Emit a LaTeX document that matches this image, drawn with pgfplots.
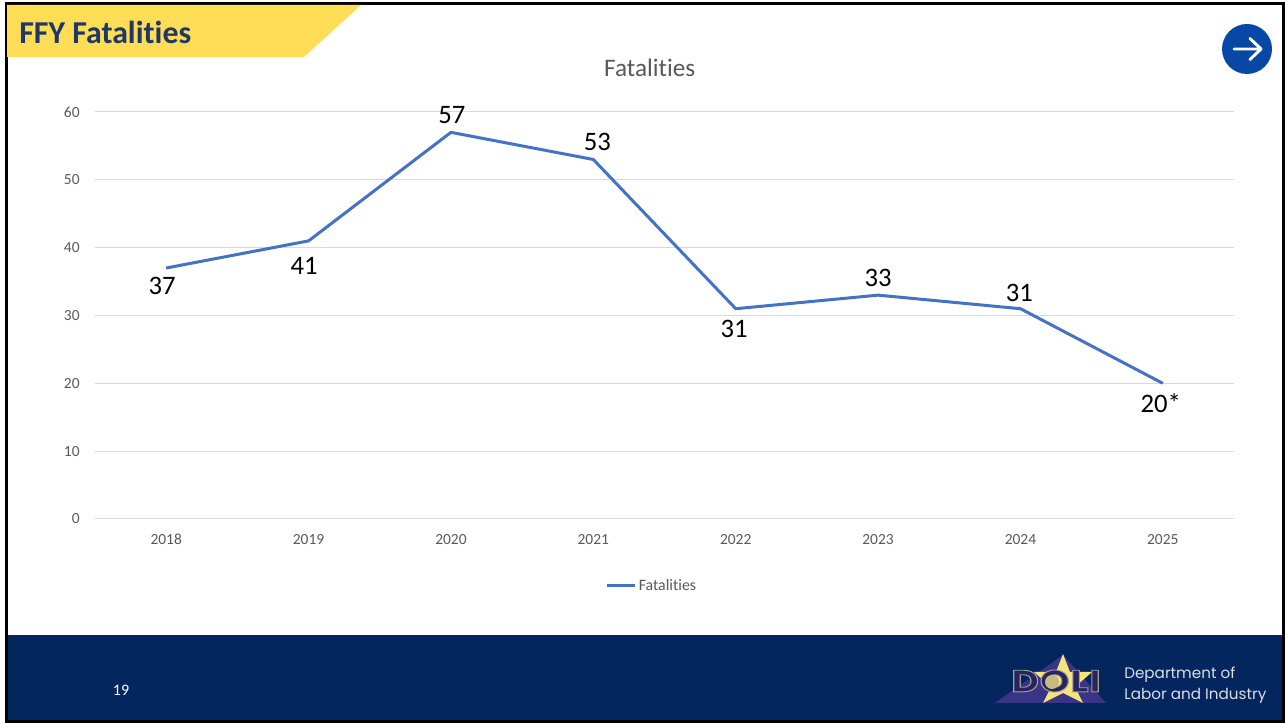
\documentclass[border=0pt]{standalone}
\usepackage{fontspec}
\setmainfont{Carlito}[RawFeature=-liga]
\newfontfamily\logofont{Poppins}
\usepackage{pgfplots}
\usepackage{pgfplotstable}
\pgfplotsset{compat=1.18}

\definecolor{navy}{HTML}{04265E}
\definecolor{headyellow}{HTML}{FFDD57}
\definecolor{headblue}{HTML}{1F3864}
\definecolor{arrowblue}{HTML}{0747A6}
\definecolor{linecol}{HTML}{4472C4}
\definecolor{gridcol}{HTML}{D9D9D9}
\definecolor{txtgrey}{HTML}{595959}
\definecolor{logotri}{HTML}{3A3486}
\definecolor{logostar}{HTML}{F7E37C}

% dx, dy: label offset from the point, in reference pixels
\pgfplotstableread{
x y  label dx   dy
0 37 37    -4   -18
1 41 41    -4.5 -25
2 57 57    1    17
3 53 53    4    18
4 31 31    -1.5 -20
5 33 33    0    17
6 31 31    -1   16
7 20 20*   -2   -20
}\fatalities

% logo lettering: filled with a pale stroke round it
\newcommand{\doli}{\special{pdf:code q 2 Tr 0.7 w 0.62 0.62 0.62 RG}D\kern0.5ptO\kern0.5ptL\kern0.5ptI\special{pdf:code Q 0 Tr}}

\begin{document}
\begin{tikzpicture}
% slide furniture, in reference pixels from the top-left corner
\begin{scope}[x=0.75pt,y=-0.75pt,yshift=542.25pt]
\path[use as bounding box,fill=white] (0,0) rectangle (1288,723);
\fill[navy] (6,635) rectangle (1283,721);
\draw[black,line width=2.25pt] (6,3.5) rectangle (1283,721.5);
\fill[headyellow] (7,5) -- (361,5) -- (304,57) -- (7,57) -- cycle;
\node[anchor=west,inner sep=0pt,text=headblue,font=\fontsize{23.9}{26}\selectfont\bfseries] at (19,32) {FFY Fatalities};
\fill[arrowblue] (1247,49) circle[radius=25];
\draw[white,line width=2.2pt,line cap=round,line join=round] (1234,49) -- (1260,49) (1250,38.5) -- (1261,49) -- (1250,59.5);
\node[text=white,font=\fontsize{12}{14}\selectfont] at (121,690) {19};

% logo
\fill[logotri] (995,703) -- (1063,655) -- (1106,703) -- cycle;
\fill[logostar] (1063,654) -- (1070,672) -- (1092,672) -- (1075,687) -- (1083,703) -- (1063,693) -- (1043,703) -- (1051,687) -- (1034,672) -- (1056,672) -- cycle;
\node[text=logotri!70!black,xscale=1.24,font=\logofont\fontsize{23}{26}\selectfont\bfseries,inner sep=0pt] at (1056,681) {\doli};
\fill[logostar!60!gray] (1052,682) circle[radius=7];
\node[anchor=west,inner sep=0pt,text=white!85!navy,font=\logofont\fontsize{11.4}{14}\selectfont] at (1124,675) {Department of};
\node[anchor=west,inner sep=0pt,text=white!85!navy,font=\logofont\fontsize{11.4}{14}\selectfont] at (1124,696) {Labor and Industry};
\end{scope}

\begin{axis}[
  at={(71.25pt,153pt)}, anchor=south west,
  scale only axis, width=854.25pt, height=305.25pt,
  xmin=-0.5, xmax=7.5, ymin=0, ymax=60,
  clip=false,
  axis line style={draw=none},
  tick style={draw=none},
  ymajorgrids, grid style={gridcol,line width=0.75pt},
  ytick={0,10,...,60},
  xtick={0,...,7},
  xticklabels={2018,2019,2020,2021,2022,2023,2024,2025},
  /pgf/number format/assume math mode=true,
  tick label style={text=txtgrey,font=\fontsize{11.6}{13}\selectfont},
  xticklabel style={yshift=-8pt},
  yticklabel style={xshift=-8pt},
  title={Fatalities},
  title style={at={(0.487,1)},anchor=base,yshift=20.75pt,text=txtgrey,font=\fontsize{18.9}{21}\selectfont},
  legend style={at={(0.489,-0.164)},anchor=center,draw=none,fill=none,text=txtgrey,font=\fontsize{11.9}{14}\selectfont},
  legend image code/.code={\draw[#1] (0pt,0pt) -- (21pt,0pt);},
  every node near coord/.append style={anchor=center,text=black,font=\fontsize{20}{22}\selectfont,xshift=0.75*\dx pt,yshift=0.75*\dy pt},
]
\addplot[linecol,line width=2.25pt,line join=round,
  nodes near coords,
  point meta=explicit symbolic,
  visualization depends on={\thisrow{dx} \as \dx},
  visualization depends on={\thisrow{dy} \as \dy},
] table[x=x,y=y,meta=label] {\fatalities};
\addlegendentry{Fatalities}
\end{axis}
\end{tikzpicture}
\end{document}
